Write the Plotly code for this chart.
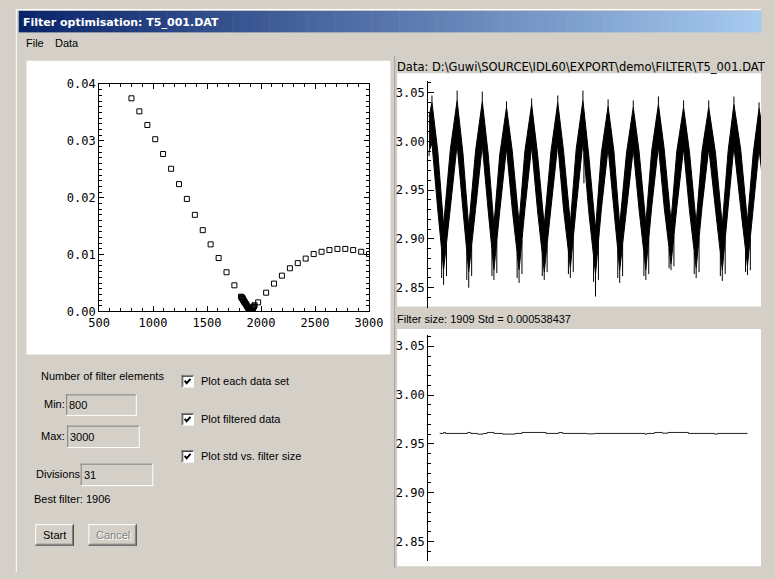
import numpy as np
import plotly.graph_objects as go

W, H = 775, 579

# ---------------- data ----------------
filter_sizes = [800, 873, 947, 1020, 1093, 1167, 1240, 1313, 1387, 1460, 1533, 1607, 1680, 1753,
                1827, 1900, 1973, 2047, 2120, 2193, 2267, 2340, 2413, 2487, 2560, 2633, 2707,
                2780, 2853, 2927, 3000]
std_values = [0.0375, 0.0352, 0.0328, 0.0303, 0.0277, 0.0251, 0.0224, 0.0198, 0.0170, 0.0143,
              0.0118, 0.0094, 0.0069, 0.0046, 0.0024, 0.0002, 0.0016, 0.0033, 0.0049, 0.0063,
              0.0076, 0.0085, 0.0093, 0.0101, 0.0105, 0.0108, 0.0110, 0.0110, 0.0108, 0.0105,
              0.0101]
fine_sizes = [1815, 1820, 1825, 1830, 1835, 1840, 1845, 1850, 1855, 1860, 1865, 1870, 1875,
              1880, 1885, 1890, 1895, 1900, 1905, 1910, 1915, 1920, 1925, 1930, 1935, 1940]
fine_std = [0.0026, 0.0025, 0.0023, 0.0022, 0.0020, 0.0019, 0.0017, 0.0016, 0.0014, 0.0013,
            0.0011, 0.0010, 0.0008, 0.0007, 0.0005, 0.0004, 0.0002, 0.0001, 0.00002, 0.0001,
            0.0003, 0.0005, 0.0006, 0.0008, 0.0009, 0.0011]

# raw signal: band envelope knots (sample index, upper edge, lower edge)
knot_t = [1, 4, 10, 16, 23, 30, 36, 42, 49, 56, 62, 68, 74, 81, 87, 94, 100, 107, 113, 120,
          127, 134, 140, 147, 153, 160, 166, 173, 179, 186, 192, 198, 205, 212, 218, 225, 231,
          238, 244, 251, 257, 264, 270, 277, 283, 290, 297, 304, 310, 316, 323, 330, 336, 342,
          350]
knot_hi = [3.025, 3.040, 2.990, 2.914, 2.992, 3.042, 2.988, 2.912, 2.990, 3.041, 2.988, 2.914,
           2.986, 3.035, 2.990, 2.916, 2.990, 3.038, 2.988, 2.914, 2.990, 3.040, 2.990, 2.916,
           2.992, 3.042, 2.986, 2.910, 2.988, 3.036, 2.990, 2.914, 2.988, 3.035, 2.990, 2.916,
           2.990, 3.038, 2.992, 2.918, 2.990, 3.035, 2.990, 2.916, 2.990, 3.035, 2.988, 2.914,
           2.990, 3.038, 2.992, 2.918, 2.988, 3.034, 2.985]
knot_lo = [2.990, 2.998, 2.930, 2.868, 2.932, 2.997, 2.930, 2.866, 2.930, 2.996, 2.930, 2.868,
           2.928, 2.993, 2.930, 2.868, 2.930, 2.995, 2.930, 2.866, 2.932, 2.997, 2.930, 2.870,
           2.932, 2.999, 2.928, 2.864, 2.930, 2.993, 2.930, 2.868, 2.930, 2.992, 2.930, 2.868,
           2.932, 2.995, 2.932, 2.874, 2.932, 2.993, 2.930, 2.870, 2.932, 2.993, 2.930, 2.868,
           2.932, 2.995, 2.932, 2.872, 2.930, 2.992, 2.925]
# noise spikes (sample index, extreme value)
spike_t = [1, 4, 14, 16, 19, 30, 40, 42, 45, 56, 66, 68, 71, 81, 92, 94, 97, 107, 118, 120,
           123, 134, 145, 147, 150, 160, 161, 171, 173, 176, 186, 196, 198, 201, 212, 223, 225,
           228, 238, 249, 251, 254, 264, 275, 277, 280, 290, 302, 304, 307, 316, 328, 330, 333,
           342]
spike_v = [2.985, 3.047, 2.860, 2.853, 2.862, 3.052, 2.858, 2.850, 2.862, 3.051, 2.862, 2.858,
           2.865, 3.041, 2.860, 2.855, 2.864, 3.044, 2.862, 2.858, 2.866, 3.047, 2.864, 2.860,
           2.866, 3.052, 2.957, 2.856, 2.841, 2.858, 3.043, 2.860, 2.855, 2.862, 3.042, 2.862,
           2.858, 2.864, 3.046, 2.870, 2.868, 2.872, 3.042, 2.864, 2.860, 2.866, 3.042, 2.862,
           2.857, 2.864, 3.046, 2.866, 2.863, 2.868, 3.040]

# filtered signal
filt_t = [12, 16, 18, 41, 44, 51, 57, 61, 68, 77, 90, 97, 122, 135, 139, 164, 172, 224, 226,
          234, 242, 248, 269, 296, 299, 330]
filt_v = [2.9607, 2.9617, 2.9607, 2.9617, 2.9607, 2.9600, 2.9607, 2.9617, 2.9607, 2.9600,
          2.9607, 2.9617, 2.9607, 2.9617, 2.9607, 2.9603, 2.9607, 2.9600, 2.9607, 2.9617,
          2.9610, 2.9617, 2.9607, 2.9600, 2.9607, 2.9607]

std_ticks = [0.00, 0.01, 0.02, 0.03, 0.04]
size_ticks = [500, 1000, 1500, 2000, 2500, 3000]
sig_ticks = [2.85, 2.90, 2.95, 3.00, 3.05]

# ---------------- helpers ----------------
def X(px):
    return px / W

def Y(py):
    return 1 - py / H

GREY = "#d4d0c8"
GUI_FONT = "Liberation Sans, Arial, sans-serif"
TITLE_FONT = "DejaVu Sans, sans-serif"
TICK_FONT = "DejaVu Sans Mono, monospace"

shapes = []
annotations = []

def rect(x0, y0, x1, y1, fill, line=None, lw=1):
    shapes.append(dict(type="rect", xref="paper", yref="paper", x0=X(x0), x1=X(x1),
                       y0=Y(y1), y1=Y(y0), fillcolor=fill, layer="below",
                       line=dict(width=lw if line else 0, color=line or fill)))

def line(x0, y0, x1, y1, color, lw=1):
    shapes.append(dict(type="line", xref="paper", yref="paper", x0=X(x0), x1=X(x1),
                       y0=Y(y0), y1=Y(y1), line=dict(color=color, width=lw), layer="above"))

def text(x, y, s, size=11, color="black", bold=False, anchor="left", family=GUI_FONT):
    annotations.append(dict(xref="paper", yref="paper", x=X(x), y=Y(y), text=("<b>%s</b>" % s) if bold else s,
                            showarrow=False, xanchor=anchor, yanchor="middle", borderpad=0,
                            font=dict(family=family, size=size, color=color)))

# window frame
line(5.5, 2, 5.5, H, "white")
line(5, 2.5, W, 2.5, "white")

# title bar gradient
n = 80
c0 = np.array([10, 36, 106])
c1 = np.array([166, 202, 240])
for i in range(n):
    f = i / (n - 1)
    c = (c0 + (c1 - c0) * f).astype(int)
    x0 = 8 + i * (W - 8) / n
    x1 = 8 + (i + 1) * (W - 8) / n + 0.5
    rect(x0, 4, x1, 26, "rgb(%d,%d,%d)" % tuple(c))
text(11, 16, "Filter optimisation: T5_001.DAT", size=11, color="white", bold=True, family=TITLE_FONT)

# menu
text(14, 37, "File")
text(44, 37, "Data")

# white panels
rect(16, 55, 392, 356, "white")
rect(399, 68, W, 307, "white")
rect(399, 330, W, 573, "white")
line(396.5, 50, 396.5, 575, "#a0a0a0")

text(398, 61, "Data: D:\\Guwi\\SOURCE\\IDL60\\EXPORT\\demo\\FILTER\\T5_001.DAT", size=11.5, family=TITLE_FONT)
text(398, 320, "Filter size: 1909 Std = 0.000538437")

# controls
text(30, 378, "Number of filter elements")

def textbox(x0, y0, x1, y1, s):
    rect(x0, y0, x1, y1, GREY)
    line(x0, y0 + 0.5, x1, y0 + 0.5, "#808080")
    line(x0 + 0.5, y0, x0 + 0.5, y1, "#808080")
    line(x0, y1 - 0.5, x1, y1 - 0.5, "white")
    line(x1 - 0.5, y0, x1 - 0.5, y1, "white")
    text(x0 + 2, (y0 + y1) / 2, s)

text(33, 407, "Min:")
textbox(57, 397, 130, 419, "800")
text(30, 440, "Max:")
textbox(58, 429, 133, 452, "3000")
text(25, 479, "Divisions")
textbox(72, 468, 147, 491, "31")
text(23, 504, "Best filter: 1906")

def button(x0, y0, x1, y1, s, color="black"):
    rect(x0, y0, x1, y1, GREY)
    line(x0, y0 + 0.5, x1, y0 + 0.5, "white")
    line(x0 + 0.5, y0, x0 + 0.5, y1, "white")
    line(x0, y1 - 0.5, x1, y1 - 0.5, "#404040")
    line(x1 - 0.5, y0, x1 - 0.5, y1, "#404040")
    line(x0 + 1, y1 - 1.5, x1 - 1, y1 - 1.5, "#808080")
    line(x1 - 1.5, y0 + 1, x1 - 1.5, y1 - 1, "#808080")
    cx, cy = (x0 + x1) / 2, (y0 + y1) / 2
    if color != "black":
        text(cx + 1, cy + 1, s, color="white", anchor="center")
    text(cx, cy, s, color=color, anchor="center")

button(25, 530, 65, 552, "Start")
button(80, 530, 130, 552, "Cancel", color="#808080")

def checkbox(x0, y0, label):
    rect(x0, y0, x0 + 13, y0 + 13, "white")
    line(x0, y0 + 0.5, x0 + 13, y0 + 0.5, "#808080")
    line(x0 + 0.5, y0, x0 + 0.5, y0 + 13, "#808080")
    line(x0 + 1, y0 + 1.5, x0 + 12, y0 + 1.5, "#404040")
    line(x0 + 1.5, y0 + 1, x0 + 1.5, y0 + 12, "#404040")
    shapes.append(dict(type="path", xref="paper", yref="paper",
                       path="M %f,%f L %f,%f L %f,%f" % (X(x0 + 3.5), Y(y0 + 6), X(x0 + 5.5), Y(y0 + 8.5),
                                                          X(x0 + 9.5), Y(y0 + 4)),
                       line=dict(color="black", width=2), layer="above"))
    text(x0 + 19, y0 + 6.5, label)

checkbox(176, 377, "Plot each data set")
checkbox(176, 416, "Plot filtered data")
checkbox(176, 454, "Plot std vs. filter size")

# ---------------- traces ----------------
fig = go.Figure()

fig.add_trace(go.Scatter(x=filter_sizes, y=std_values, mode="markers", xaxis="x", yaxis="y",
                         marker=dict(symbol="square-open", size=5, color="black",
                                     line=dict(width=1, color="black")), showlegend=False))
fig.add_trace(go.Scatter(x=fine_sizes, y=fine_std, mode="markers", xaxis="x", yaxis="y",
                         marker=dict(symbol="square-open", size=5, color="black",
                                     line=dict(width=1, color="black")), showlegend=False))

band_x = knot_t + knot_t[::-1]
band_y = knot_hi + knot_lo[::-1]
fig.add_trace(go.Scatter(x=band_x, y=band_y, mode="lines", fill="toself", fillcolor="black",
                         line=dict(color="black", width=1), xaxis="x2", yaxis="y2",
                         showlegend=False, hoverinfo="skip"))
sx, sy = [], []
for t, v in zip(spike_t, spike_v):
    hi = float(np.interp(t, knot_t, knot_hi))
    lo = float(np.interp(t, knot_t, knot_lo))
    if v < lo:
        sx += [t, t, None]
        sy += [lo, v, None]
    elif v > hi:
        sx += [t, t, None]
        sy += [hi, v, None]
fig.add_trace(go.Scatter(x=sx, y=sy, mode="lines", line=dict(color="black", width=1),
                         xaxis="x2", yaxis="y2", showlegend=False, hoverinfo="skip"))

fig.add_trace(go.Scatter(x=filt_t, y=filt_v, mode="lines", line=dict(color="#222", width=1, shape="hv"),
                         xaxis="x3", yaxis="y3", showlegend=False))

tickfont = dict(family=TICK_FONT, size=12, color="black")
sig_range = [3.05 - (308 - 87.7) / 1000, 3.05 + (87.7 - 76) / 1000]

fig.update_layout(
    width=W, height=H, margin=dict(l=0, r=0, t=0, b=0),
    paper_bgcolor=GREY, plot_bgcolor="rgba(0,0,0,0)",
    shapes=shapes, annotations=annotations, showlegend=False,
    xaxis=dict(domain=[X(91), X(370)], range=[500, 3000], tickvals=size_ticks,
               ticks="inside", ticklen=5, tickcolor="black", showline=True, linecolor="black",
               linewidth=1, mirror="ticks", showgrid=False, zeroline=False, tickfont=tickfont,
               minor=dict(ticks="inside", ticklen=3, dtick=100, tick0=500, tickcolor="black", showgrid=False),
               anchor="y"),
    yaxis=dict(domain=[Y(312), Y(79)], range=[0, 0.04], tickvals=std_ticks, tickformat=".2f",
               ticks="inside", ticklen=5, tickcolor="black", showline=True, linecolor="black",
               linewidth=1, mirror="ticks", showgrid=False, zeroline=False, tickfont=tickfont,
               minor=dict(ticks="inside", ticklen=3, dtick=0.001, tick0=0, tickcolor="black", showgrid=False),
               anchor="x"),
    xaxis2=dict(domain=[X(431), 1], range=[0, 344], visible=False, anchor="y2"),
    yaxis2=dict(domain=[Y(308), Y(76)], range=sig_range, tickvals=sig_ticks, tickformat=".2f",
                ticks="inside", ticklen=6, tickcolor="black", showline=True, linecolor="black",
                linewidth=1, showgrid=False, zeroline=False, tickfont=tickfont,
                minor=dict(ticks="inside", ticklen=3, dtick=0.01, tick0=2.85, tickcolor="black", showgrid=False),
                anchor="x2"),
    xaxis3=dict(domain=[X(431), 1], range=[0, 344], visible=False, anchor="y3"),
    yaxis3=dict(domain=[Y(568), Y(336)], range=sig_range, tickvals=sig_ticks, tickformat=".2f",
                ticks="inside", ticklen=6, tickcolor="black", showline=True, linecolor="black",
                linewidth=1, showgrid=False, zeroline=False, tickfont=tickfont,
                minor=dict(ticks="inside", ticklen=3, dtick=0.01, tick0=2.85, tickcolor="black", showgrid=False),
                anchor="x3"),
)

post = ("var s=document.documentElement.style;s.margin='0';s.padding='0';s.overflow='hidden';s.background='#d4d0c8';"
        "var b=document.body.style;b.margin='0';b.padding='0';b.overflow='hidden';b.background='#d4d0c8';")
fig.write_html("out.html", config={"displayModeBar": False}, post_script=post)
